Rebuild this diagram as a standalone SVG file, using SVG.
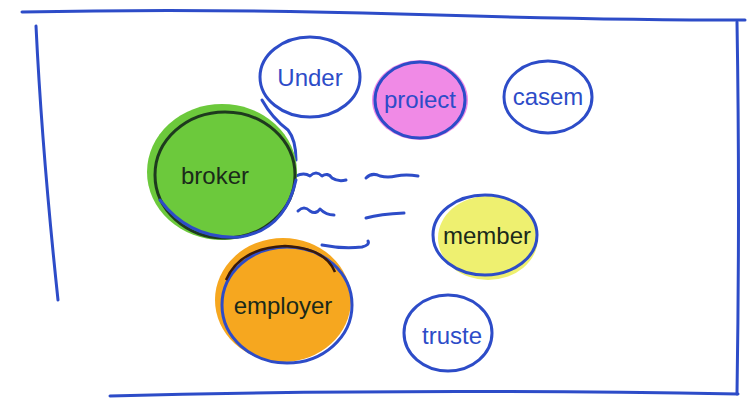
<svg xmlns="http://www.w3.org/2000/svg" width="751" height="403" viewBox="0 0 751 403">
<style>
.ink{fill:none;stroke:#2d4cc8;stroke-width:3;stroke-linecap:round;stroke-linejoin:round}
.lbl{font-family:"Liberation Sans",Arial,sans-serif;font-size:24px;text-anchor:middle;dominant-baseline:middle}
.blue{fill:#2d4cc8}
.dark{fill:#1a2a1a}
</style>
<rect width="751" height="403" fill="#ffffff"/>
<g id="frame">
<path class="ink" d="M22 12 Q200 8 400 14 T745 20"/>
<path class="ink" d="M36 26 Q42 150 58 300"/>
<path class="ink" d="M737 22 Q740 200 737 394"/>
<path class="ink" d="M110 396 Q400 388 738 394"/>
</g>
<g id="connectors">
<path class="ink" d="M296 176 q8 -4 14 0 q6 -6 12 0 q6 -4 10 2 q6 4 14 2"/>
<path class="ink" d="M366 178 q6 -6 14 -2 q8 2 16 0 q10 -2 22 0"/>
<path class="ink" d="M298 211 q6 -6 12 0 q6 4 10 -2 q6 6 14 6"/>
<path class="ink" d="M366 218 q14 -4 38 -5"/>
<path class="ink" d="M322 245 q20 4 40 2 q8 -2 6 -6"/>
</g>
<g id="under">
<ellipse class="ink" cx="310" cy="77" rx="50" ry="40"/>
<path class="ink" d="M262 100 Q272 118 288 130 Q296 140 296 160"/>
<text class="lbl blue" x="310" y="80">Under</text>
</g>
<g id="proiect">
<ellipse cx="420" cy="100" rx="48" ry="40" fill="#f08ae6"/>
<ellipse class="ink" cx="420" cy="100" rx="45" ry="38"/>
<text class="lbl blue" x="420" y="102">proiect</text>
</g>
<g id="casem">
<ellipse class="ink" cx="548" cy="97" rx="44" ry="36"/>
<text class="lbl blue" x="548" y="99">casem</text>
</g>
<g id="broker">
<ellipse cx="222" cy="172" rx="75" ry="68" fill="#6cc93c"/>
<ellipse cx="225" cy="175" rx="70" ry="63" fill="none" stroke="#1e3a1e" stroke-width="3"/>
<path class="ink" d="M160 200 Q190 240 240 237 Q285 230 296 180"/>
<text class="lbl dark" x="215" y="178">broker</text>
</g>
<g id="member">
<ellipse cx="488" cy="238" rx="50" ry="42" fill="#eef070"/>
<ellipse class="ink" cx="485" cy="235" rx="52" ry="40"/>
<text class="lbl dark" x="487" y="238">member</text>
</g>
<g id="employer">
<ellipse cx="283" cy="300" rx="68" ry="62" fill="#f6a71f"/>
<ellipse class="ink" cx="287" cy="305" rx="65" ry="58"/>
<path d="M226 280 Q240 248 285 246 Q325 248 335 272" fill="none" stroke="#3a1a0a" stroke-width="2.5"/>
<text class="lbl dark" x="283" y="308">employer</text>
</g>
<g id="truste">
<ellipse class="ink" cx="448" cy="333" rx="44" ry="38"/>
<text class="lbl blue" x="452" y="338">truste</text>
</g>
</svg>
